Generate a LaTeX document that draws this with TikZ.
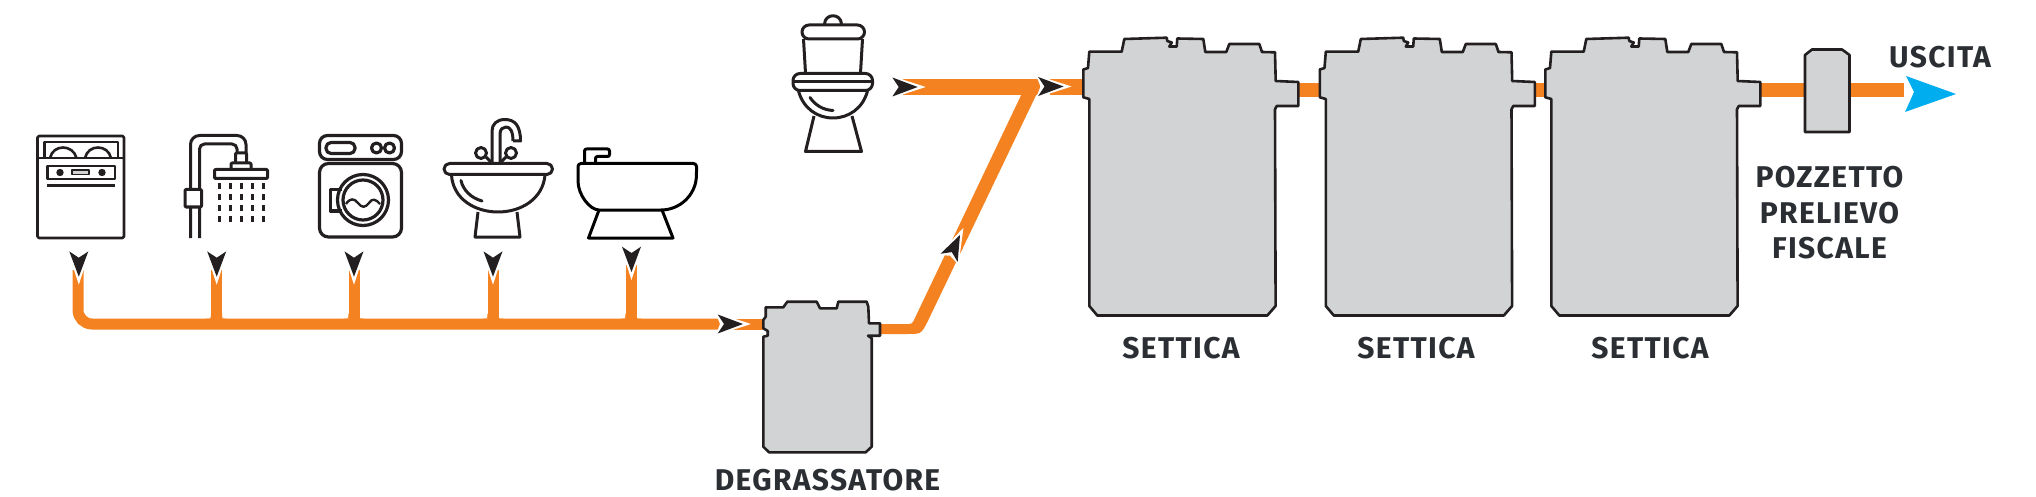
\documentclass[tikz,border=0pt]{standalone}
\usepackage{fontspec}
\usetikzlibrary{calc}
\setmainfont{Fira Sans}[LetterSpace=4.5]
\definecolor{pipeor}{HTML}{F58220}
\definecolor{inkb}{HTML}{231F20}
\definecolor{tankg}{HTML}{D1D3D4}
\definecolor{outb}{HTML}{00AEEF}
\definecolor{labc}{HTML}{2B2E33}
\tikzset{
  pipe/.style={draw=pipeor,line width=11pt},
  pipefat/.style={draw=pipeor,line width=14pt},
  pipetop/.style={draw=pipeor,line width=16pt},
  tankline/.style={draw=inkb,fill=tankg,line width=2.6pt,line join=round},
  icon/.style={draw=inkb,line width=3pt,line join=round,line cap=butt},
  iconthin/.style={draw=inkb,line width=2.6pt,line join=round},
  lab/.style={inner sep=0pt,anchor=base,text=labc,font=\fontsize{30}{30}\selectfont\bfseries},
  flowhead/.pic={
    \fill[white] (-27.5,-11.5) -- (8,0) -- (-27.5,11.5) -- (-23,0) -- cycle;
    \fill[inkb] (-25.3,-9.5) -- (0,0) -- (-25.3,9.5) -- (-19,0) -- cycle;
  },
  bigtank/.pic={
    \draw[tankline] (0,51.7) -- (32.4,51.7) -- (35,39) -- (77.4,37.7) -- (78,41) -- (82.5,42.5) -- (80,46.5) -- (87.4,46.5) -- (88,38.5) -- (114,39) -- (116,52) -- (137,52) -- (140,44) -- (170,44) -- (172.7,52) -- (185.7,52.3) -- (186.4,81) -- (209,82) -- (209,106) -- (187.4,106) -- (185.7,109.3) -- (186.3,306) -- (178,315.5) -- (8,315.5) -- (0,306) -- (0,99) -- (-6,97.3) -- (-6,69.5) -- (-1.3,68) -- cycle;
  },
}
\begin{document}
\begin{tikzpicture}[x=1pt,y=-1pt]
\useasboundingbox (0,0) rectangle (2036,497);
% --- named points of the network
\coordinate (corner) at (78,324);
\foreach \n/\x/\ys in {1/78/270,2/216.5/270,3/354/270,4/493/270,5/631/265}{
  \coordinate (j\n) at (\x,324);
  \coordinate (s\n) at (\x,\ys);
}
\coordinate (mainend) at (722,324);
\coordinate (gin) at (732,324);
\coordinate (gtank) at (764,324);
\coordinate (wcin) at (903,87);
\coordinate (t1in) at (1083,87);
\coordinate (t1out) at (1298,90);
\coordinate (t2in) at (1320,90);
\coordinate (t2out) at (1534,90);
\coordinate (t3in) at (1546,90);
\coordinate (t3out) at (1760,90);
\coordinate (outend) at (1904,90);
% --- pipes
\draw[pipe,rounded corners=14pt] (s1) -- (corner) -- (mainend);
\foreach \n in {2,3,4,5}{
  \draw[pipe] (s\n) -- (j\n);
  \fill[pipeor] ($(j\n)+(-10.5,-5.5)$) .. controls ($(j\n)+(-5.5,-5.5)$) .. ($(j\n)+(-5.5,-10.5)$) -- ($(j\n)+(5.5,-10.5)$) .. controls ($(j\n)+(5.5,-5.5)$) .. ($(j\n)+(10.5,-5.5)$) -- cycle;
}
\draw[pipe] (gin) -- (gtank);
% rising branch from the grease trap to the top pipe
\fill[pipeor] (878,324) -- (908,324) .. controls (911.5,324) .. (913.5,321) -- (1025,87) -- (1040,87) -- (927.4,322) .. controls (921,334) .. (908,334) -- (878,334) -- cycle;
\draw[pipetop] (wcin) -- (1040,87) (1050,87) -- (t1in);
\draw[pipefat] (t1out) -- (t2in);
\draw[pipefat] (t2out) -- (t3in);
\draw[pipefat] (t3out) -- (outend);
% --- flow heads
\foreach \x/\y in {78.8/276.7,216.7/276.7,354/276.7,493/276.7,631.5/272}{
  \pic[rotate=-90] at (\x,\y) {flowhead};
}
\pic at (743,324) {flowhead};
\pic at (917.7,87) {flowhead};
\pic at (1063.5,86.5) {flowhead};
\pic[rotate=64.4] at (960,235) {flowhead};
% --- outlet arrow
\fill[outb] (1906,76) -- (1956,94) -- (1905,112) -- (1914,92) -- cycle;
% --- grease trap
\draw[tankline] (765.7,307.3) -- (783.3,307.3) -- (787.3,301.7) -- (816.7,301.7) -- (820,308.3) -- (836.7,308.3) -- (838.3,301.7) -- (866.7,301.7) -- (868.3,306.7) -- (869,323.3) -- (880,323.3) -- (880,335.7) -- (868,335.7) -- (871.7,338.3) -- (871.7,446.7) -- (865.7,452.3) -- (769,452.3) -- (763.3,446.7) -- (763.3,336.7) -- (767.7,335.7) -- (767.7,331) -- (763.3,328.3) -- (763.3,320) -- (765.7,316.7) -- cycle;
% --- septic tanks
\pic at (1089.3,0) {bigtank};
\pic at (1325.8,0) {bigtank};
\pic at (1551.3,0) {bigtank};
% --- sampling well
\draw[tankline] (1805,55) -- (1812,49.5) -- (1842,49.5) -- (1849.5,55) -- (1849.5,132) -- (1805,132) -- cycle;
% --- dishwasher
\begin{scope}[iconthin]
  \draw[rounded corners=1.5pt] (37.5,136) rectangle (124,238);
  \draw (37.5,158) -- (124,158);
  \draw (44.5,158) -- (44.5,142) -- (118,142) -- (118,158);
  \draw (50,158) .. controls (53,144) and (73,144) .. (76.5,158);
  \draw (85,158) .. controls (88,144) and (108,144) .. (111,158);
  \draw (47.5,166) rectangle (115,179);
  \fill[inkb] (60,172.5) circle[radius=3.7];
  \fill[inkb] (102,172.5) circle[radius=3.7];
  \draw[line width=1.5pt,fill=tankg] (72,170) rectangle (89,174.5);
  \draw[line width=3pt] (46.5,185.5) -- (115,185.5);
\end{scope}
% --- shower
\begin{scope}[icon]
  \draw[rounded corners=9pt] (190.5,238) -- (190.5,135.5) -- (246,135.5) -- (246,154);
  \draw[rounded corners=5pt] (199.5,238) -- (199.5,144) -- (237,144) -- (237,154);
  \draw[rounded corners=1pt] (235.5,163) -- (235.5,153) -- (246.5,153) -- (246.5,163);
  \draw[rounded corners=1pt] (231,169.5) -- (231,163) -- (251,163) -- (251,169.5);
  \draw[rounded corners=1pt] (214.5,169.5) rectangle (267.5,178.5);
  \draw[fill=white,rounded corners=1pt] (185,189.5) rectangle (201.5,207);
  \foreach \y in {186,197,208,219}{
    \foreach \x in {219.5,230.5,241,252,263}{
      \fill[inkb] (\x-1.5,\y-2.7) rectangle (\x+1.5,\y+2.7);
    }
  }
\end{scope}
% --- washing machine
\begin{scope}[icon,line width=3.2pt]
  \draw[rounded corners=8pt] (319.5,159.5) -- (319.5,135.5) -- (401.5,135.5) -- (401.5,159.5) -- cycle;
  \draw[rounded corners=9pt] (319.5,163.5) -- (319.5,237) -- (401.5,237) -- (401.5,163.5) -- cycle;
  \draw[rounded corners=5pt] (326,142.5) rectangle (355,153.5);
  \draw (376.5,148) circle[radius=5];
  \draw (389.5,148) circle[radius=5];
  \draw (363,200) circle[radius=25.5];
  \draw (363,200) circle[radius=20];
  \draw (342,189.5) -- (330.5,189.5) -- (330.5,211) -- (342,211);
  \draw[line width=2.4pt] (346,204) .. controls (350,198) and (354,198) .. (358,203) .. controls (362,208) and (365,208) .. (369,203) .. controls (372,198) and (376,199) .. (380,204);
\end{scope}
% --- sink
\begin{scope}[icon]
  \draw[rounded corners=5.5pt] (444,163.5) rectangle (552.5,174.5);
  \draw (451.5,175) .. controls (453,199) and (475,212) .. (498,212) .. controls (521,212) and (543,199) .. (545,175);
  \draw[line cap=round] (461,180.5) .. controls (463,190) and (471,198) .. (482,201);
  \draw (478,212) -- (475,237) -- (520,237) -- (517,212);
  \draw (492,163) -- (492,131) .. controls (492,124) and (497,119.5) .. (505,119.5) .. controls (515,119.5) and (520.5,126) .. (520.5,141) -- (513,141);
  \draw (500,163) -- (500,134) .. controls (500,129) and (503,127) .. (506,127) .. controls (510,127) and (513,131) .. (513,141);
  \draw (481,153) circle[radius=5.5];
  \draw (511,153) circle[radius=5.5];
  \draw (486,157) -- (491,162);
  \draw (506,157) -- (501,162);
\end{scope}
% --- bidet
\begin{scope}[icon,draw=black]
  \draw[rounded corners=3pt] (578,163.5) -- (696.5,163.5) -- (696.5,175) .. controls (695,195) and (680,210) .. (658,210) -- (602,210) .. controls (590,210) and (578,195) .. (578,178) -- cycle;
  \draw[rounded corners=2pt] (584.5,163) -- (584.5,149) -- (609.5,149) -- (609.5,156.5) -- (595.5,156.5) -- (595.5,163);
  \draw (599,210) -- (588.5,238) -- (673,238) -- (662,210);
\end{scope}
% --- toilet
\begin{scope}[icon]
  \draw (824.5,24) .. controls (825,13) and (841,13) .. (841.5,24);
  \draw[rounded corners=7pt] (802,39) -- (802,25) -- (864.5,25) -- (864.5,39) -- cycle;
  \draw (803.5,39) -- (805.5,73);
  \draw (862.5,39) -- (860.5,73);
  \draw[rounded corners=7pt] (793,73.5) rectangle (872.5,90.5);
  \draw (793,82) -- (872.5,82);
  \draw (798.5,91) .. controls (803,108) and (817,118) .. (833,118) .. controls (849,118) and (863,108) .. (867.5,91);
  \draw[line cap=round] (810,97.5) .. controls (815,105) and (823,110) .. (833,110.5);
  \draw (814,116) -- (805.5,151.5) -- (861.5,151.5) -- (852,116);
\end{scope}
% --- labels
\node[lab] (lgr) at (827.5,490) {DEGRASSATORE};
\node[lab] (ls1) at (1181,358.5) {SETTICA};
\node[lab] (ls2) at (1416,358.5) {SETTICA};
\node[lab] (ls3) at (1650,358.5) {SETTICA};
\node[lab] (lus) at (1940,67.5) {USCITA};
\node[lab] (lp1) at (1829.5,188) {POZZETTO};
\node[lab] (lp2) at (1829.5,223) {PRELIEVO};
\node[lab] (lp3) at (1829.5,258) {FISCALE};
\end{tikzpicture}
\end{document}
